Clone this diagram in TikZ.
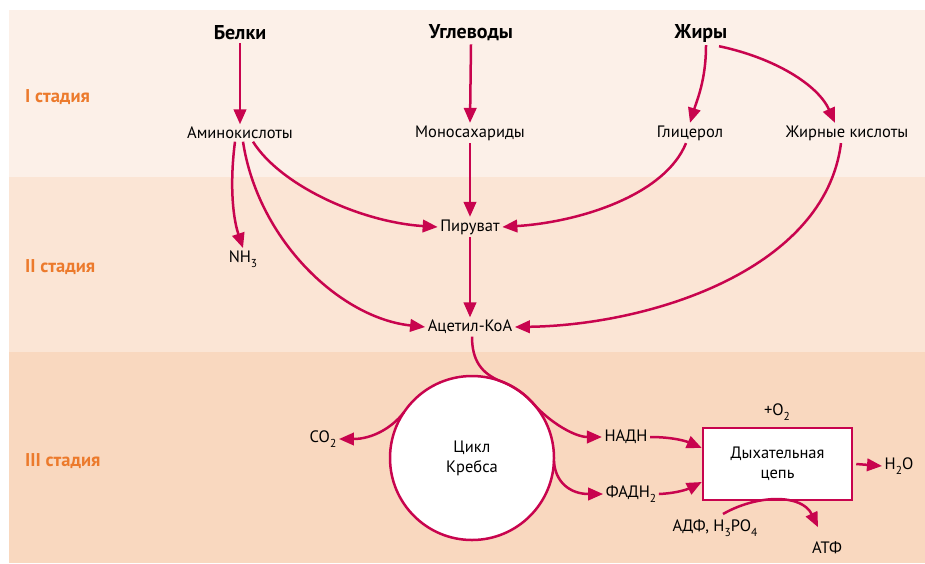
\documentclass[tikz,border=0pt]{standalone}
\usepackage{fontspec}
\setmainfont{PT Sans}
\usetikzlibrary{arrows.meta}
\definecolor{bandA}{RGB}{252,240,232}
\definecolor{bandB}{RGB}{251,229,213}
\definecolor{bandC}{RGB}{249,216,191}
\definecolor{flow}{RGB}{200,4,78}
\definecolor{stage}{RGB}{236,122,44}
\newcommand{\lowidx}[1]{\raisebox{-0.28em}{\fontsize{11.5}{12}\selectfont #1}}
\begin{document}
\begin{tikzpicture}[x=1pt,y=-1pt,
  lbl/.style={inner sep=2.5pt,font=\fontsize{16.5}{19}\selectfont},
  head/.style={inner sep=3pt,font=\fontsize{20}{22}\selectfont\bfseries},
  stg/.style={anchor=west,inner sep=0pt,text=stage,font=\fontsize{18.5}{20}\selectfont\bfseries},
  flowline/.style={draw=flow,line width=2.5pt,-{Triangle[length=15pt,width=12.5pt]}}]
\useasboundingbox (0,0) rectangle (925,563);
% background bands of the three stages
\fill[white] (0,0) rectangle (925,563);
\fill[bandA] (9,10) rectangle (925,177);
\fill[bandB] (9,177) rectangle (925,352);
\fill[bandC] (9,352) rectangle (925,563);

% stage labels
\node[stg] (s1) at (25,97) {I стадия};
\node[stg] (s2) at (25,267) {II стадия};
\node[stg] (s3) at (25,461) {III стадия};

% stage I
\node[head] (belki) at (240,33) {Белки};
\node[head] (ugl) at (471,33) {Углеводы};
\node[head] (zhiry) at (701,33) {Жиры};
\node[lbl] (amino) at (240,133) {Аминокислоты};
\node[lbl] (mono) at (470,133) {Моносахариды};
\node[lbl] (glic) at (690,133) {Глицерол};
\node[lbl] (zk) at (847,133) {Жирные кислоты};

% stage II
\node[lbl] (piru) at (470,227) {Пируват};
\node[lbl] (nh3) at (243,259) {NH\lowidx{3}};
\node[lbl] (acet) at (470,327) {Ацетил-КоА};

% stage III
\node[circle,draw=flow,fill=white,line width=2.5pt,minimum size=164pt,inner sep=0pt,outer sep=0pt,
      align=center,font=\fontsize{16.5}{20}\selectfont] (krebs) at (472,458) {Цикл\\Кребса};
\node[lbl] (co2) at (323,439) {CO\lowidx{2}};
\node[lbl] (nadh) at (626,437) {НАДН};
\node[lbl] (fadh) at (631,494) {ФАДН\lowidx{2}};
\node[draw=flow,fill=white,line width=2.5pt,minimum width=149pt,minimum height=72pt,inner sep=0pt,
      align=center,font=\fontsize{16.5}{20}\selectfont] (chain) at (777.5,464) {Дыхательная\\цепь};
\node[lbl] (o2) at (777,412) {+O\lowidx{2}};
\node[lbl] (h2o) at (899,466) {H\lowidx{2}O};
\node[lbl] (adf) at (715,528) {АДФ, H\lowidx{3}PO\lowidx{4}};
\node[lbl] (atf) at (827,548) {АТФ};

% stage I connectors
\draw[flowline] (belki.south) -- (amino.north);
\draw[flowline] (ugl.south) -- (mono.north);
\draw[flowline] ([xshift=5pt]zhiry.south) .. controls (706,80) and (697,100) .. (glic.north);
\draw[flowline] ([xshift=18pt,yshift=-1pt]zhiry.south) .. controls (775,58) and (818,85) .. ([xshift=-12pt]zk.north);

% stage II connectors
\draw[flowline] ([xshift=-5pt]amino.south) .. controls (230,180) and (232,215) .. (nh3.north);
\draw[flowline] ([xshift=3pt]amino.south) .. controls (258,240) and (340,318) .. (acet.west);
\draw[flowline] ([xshift=13pt]amino.south) .. controls (280,185) and (360,222) .. (piru.west);
\draw[flowline] (mono.south) -- (piru.north);
\draw[flowline] ([xshift=-4pt]glic.south) .. controls (665,195) and (580,222) .. (piru.east);
\draw[flowline] ([xshift=-6pt]zk.south) .. controls (825,270) and (650,325) .. (acet.east);
\draw[flowline] (piru.south) -- (acet.north);

% stage III connectors
\draw[flowline] ([xshift=2pt]acet.south) .. controls (472,360) and (481,373) .. (krebs.70)
   arc[start angle=-70,end angle=-40,radius=82]
   .. controls (551,423) and (575,437) .. (nadh.west);
\draw[flowline] (krebs.146) .. controls (392,428) and (372,439) .. (co2.east);
\draw[flowline] (krebs.-2) .. controls (555,482) and (570,494) .. (fadh.west);
\draw[flowline] (nadh.east) .. controls (675,437) and (688,442) .. ([yshift=16pt]chain.west);
\draw[flowline] (fadh.east) .. controls (680,493) and (690,488) .. ([yshift=-18pt]chain.west);
\draw[flowline] ([xshift=3pt]chain.east) -- (h2o.west);
\draw[flowline] ([xshift=8pt,yshift=3pt]adf.north) .. controls (758,494) and (802,494) .. ([xshift=-9pt,yshift=12pt]atf.north);
\end{tikzpicture}
\end{document}
